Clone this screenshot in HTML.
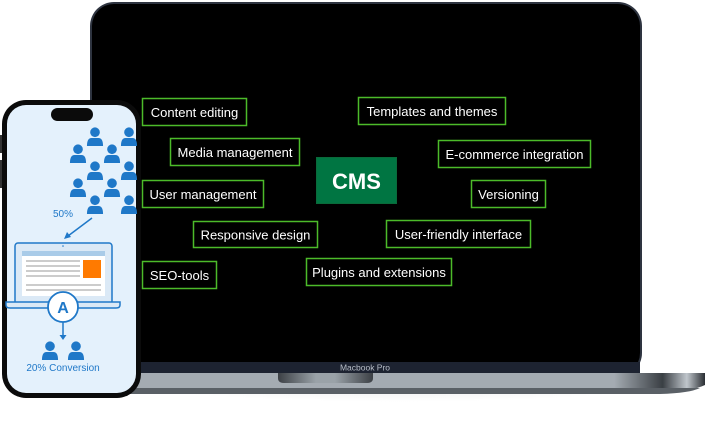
<!DOCTYPE html>
<html><head><style>
html,body{margin:0;padding:0;background:#fff;width:716px;height:445px;overflow:hidden}
svg{display:block}
text{font-family:"Liberation Sans",sans-serif}
.lb{fill:#000;stroke:#4cbb2a;stroke-width:1.5}
.lt{fill:#fff;font-size:13px}
.p{fill:#1f78c8}
</style></head><body>
<svg width="716" height="445" viewBox="0 0 716 445">
<defs>
<linearGradient id="base" x1="0" x2="1">
<stop offset="0" stop-color="#6c7379"/><stop offset="0.03" stop-color="#a4abb2"/><stop offset="0.85" stop-color="#a4abb2"/><stop offset="0.93" stop-color="#3a3f44"/><stop offset="0.97" stop-color="#c0c6cc"/><stop offset="1" stop-color="#2a2e33"/>
</linearGradient>
<linearGradient id="notch" x1="0" x2="1">
<stop offset="0" stop-color="#3c4045"/><stop offset="0.4" stop-color="#9aa2a8"/><stop offset="0.6" stop-color="#9aa2a8"/><stop offset="1" stop-color="#3c4045"/>
</linearGradient>
<radialGradient id="sh" cx="0.5" cy="0" r="0.6">
<stop offset="0" stop-color="#000" stop-opacity="0.18"/><stop offset="1" stop-color="#000" stop-opacity="0"/>
</radialGradient>
<g id="person" transform="scale(1.15)"><circle cx="0" cy="-5" r="4.2"/><path d="M-7,7 Q-7,0 -3,0 L3,0 Q7,0 7,7 Z"/></g>
</defs>
<ellipse cx="400" cy="395" rx="310" ry="35" fill="url(#sh)"/>
<rect x="90" y="2" width="552" height="375" rx="24" fill="#2e3440"/>
<rect x="92" y="4" width="548" height="371" rx="22" fill="#000"/>
<rect x="92" y="362" width="548" height="12" fill="#1d2331"/>
<text x="365" y="370.5" font-size="8.5" fill="#b8bec8" text-anchor="middle">Macbook Pro</text>
<path d="M100,373 L705,373 L705,385 Q690,392 660,393 L110,393 Q100,390 100,385 Z" fill="url(#base)"/>
<path d="M100,388 L700,388 Q690,393 660,394 L110,394 Z" fill="#5a6066"/>
<path d="M278,373 L373,373 L373,378 Q373,383 367,383 L284,383 Q278,383 278,378 Z" fill="url(#notch)"/>
<rect class="lb" x="142.5" y="98.5" width="104" height="27"/><text class="lt" x="194.5" y="117" text-anchor="middle">Content editing</text>
<rect class="lb" x="358.5" y="97.5" width="147" height="27"/><text class="lt" x="432" y="116" text-anchor="middle">Templates and themes</text>
<rect class="lb" x="170.5" y="138.5" width="129" height="27"/><text class="lt" x="235" y="157" text-anchor="middle">Media management</text>
<rect x="316.5" y="157.5" width="80" height="46" fill="#007542" stroke="#0a6a3a"/><text x="356.5" y="189" font-size="22" font-weight="bold" fill="#fff" text-anchor="middle">CMS</text>
<rect class="lb" x="438.5" y="140.5" width="152" height="27"/><text class="lt" x="514.5" y="159" text-anchor="middle">E-commerce integration</text>
<rect class="lb" x="142.5" y="180.5" width="121" height="27"/><text class="lt" x="203" y="199" text-anchor="middle">User management</text>
<rect class="lb" x="471.5" y="180.5" width="74" height="27"/><text class="lt" x="508.5" y="199" text-anchor="middle">Versioning</text>
<rect class="lb" x="193.5" y="221.5" width="124" height="26"/><text class="lt" x="255.5" y="239.5" text-anchor="middle">Responsive design</text>
<rect class="lb" x="386.5" y="220.5" width="144" height="27"/><text class="lt" x="458.5" y="239" text-anchor="middle">User-friendly interface</text>
<rect class="lb" x="142.5" y="261.5" width="74" height="27"/><text class="lt" x="179.5" y="280" text-anchor="middle">SEO-tools</text>
<rect class="lb" x="306.5" y="258.5" width="145" height="27"/><text class="lt" x="379" y="277" text-anchor="middle">Plugins and extensions</text>
<rect x="0" y="135" width="4" height="18" fill="#333"/>
<rect x="0" y="160" width="4" height="28" fill="#333"/>
<rect x="2" y="100" width="139" height="298" rx="24" fill="#0b0b0b"/>
<rect x="7" y="105" width="129" height="288" rx="19" fill="#e4f1fc"/>
<rect x="51" y="108" width="42" height="13" rx="6.5" fill="#0b0b0b"/>
<g class="p">
<use href="#person" x="95" y="138"/><use href="#person" x="129" y="138"/>
<use href="#person" x="78" y="155"/><use href="#person" x="112" y="155"/>
<use href="#person" x="95" y="172"/><use href="#person" x="129" y="172"/>
<use href="#person" x="78" y="189"/><use href="#person" x="112" y="189"/>
<use href="#person" x="95" y="206"/><use href="#person" x="129" y="206"/>
<use href="#person" x="50" y="352"/><use href="#person" x="76" y="352"/>
</g>
<text x="63" y="217" font-size="10" fill="#1f78c8" text-anchor="middle">50%</text>
<line x1="92" y1="218" x2="68" y2="236" stroke="#1f78c8" stroke-width="1.5"/>
<path d="M64,239 L67,232 L71,237 Z" fill="#1f78c8"/>
<rect x="15" y="243" width="97" height="61" rx="3" fill="#dbe9f6" stroke="#1f78c8" stroke-width="1.5"/>
<circle cx="63" cy="246" r="0.8" fill="#1f78c8"/>
<rect x="22" y="251" width="83" height="5" fill="#a9cbe8"/>
<rect x="22" y="256" width="83" height="40" fill="#fff"/>
<rect x="26" y="260" width="54" height="2" fill="#ccc"/><rect x="26" y="265" width="54" height="2" fill="#ccc"/><rect x="26" y="270" width="54" height="2" fill="#ccc"/><rect x="26" y="275" width="54" height="2" fill="#ccc"/>
<rect x="83" y="260" width="18" height="18" fill="#ff7a00"/>
<rect x="26" y="284" width="75" height="2" fill="#ccc"/><rect x="26" y="289" width="75" height="2" fill="#ccc"/>
<path d="M6,302 L120,302 L120,305 Q120,308 116,308 L10,308 Q6,308 6,305 Z" fill="#dbe9f6" stroke="#1f78c8" stroke-width="1.5"/>
<circle cx="63" cy="307" r="15" fill="#fff" stroke="#1f78c8" stroke-width="1.8"/>
<text x="63" y="313" font-size="16" font-weight="bold" fill="#1f78c8" text-anchor="middle">A</text>
<line x1="63" y1="322" x2="63" y2="336" stroke="#1f78c8" stroke-width="1.5"/>
<path d="M59.5,335 L66.5,335 L63,340 Z" fill="#1f78c8"/>
<text x="63" y="371" font-size="10" fill="#1f78c8" text-anchor="middle">20% Conversion</text>
</svg>
</body></html>
